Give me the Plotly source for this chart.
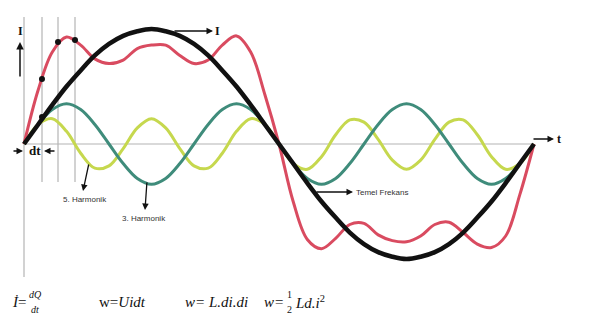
import plotly.graph_objects as go

# ---- data (phase in degrees, amplitude relative to fundamental peak) ----
phase = [0, 10, 20, 30, 40, 50, 60, 70, 80, 90, 100, 110, 120, 130, 140, 150, 160, 170, 180,
         190, 200, 210, 220, 230, 240, 250, 260, 270, 280, 290, 300, 310, 320, 330, 340, 350, 360]
fundamental = [0, .17, .34, .50, .64, .77, .87, .94, .98, 1.00, .98, .94, .87, .77, .64, .50, .34, .17, 0,
               -.17, -.34, -.50, -.64, -.77, -.87, -.94, -.98, -1.00, -.98, -.94, -.87, -.77, -.64, -.50, -.34, -.17, 0]
harm3 = [0, .17, .30, .35, .30, .17, 0, -.17, -.30, -.35, -.30, -.17,
         0, .17, .30, .35, .30, .17, 0, -.17, -.30, -.35, -.30, -.17,
         0, .17, .30, .35, .30, .17, 0, -.17, -.30, -.35, -.30, -.17, 0]
harm5 = [0, .17, .22, .11, -.08, -.21, -.19, -.04, .14, .22, .14, -.04, -.19, -.21, -.08, .11, .22, .17, 0,
         -.17, -.22, -.11, .08, .21, .19, .04, -.14, -.22, -.14, .04, .19, .21, .08, -.11, -.22, -.17, 0]
total = [0, .47, .80, .93, .86, .74, .70, .73, .83, .86, .86, .77, .70, .73, .86, .94, .80, .43, 0,
         -.50, -.83, -.91, -.82, -.70, -.69, -.79, -.84, -.85, -.80, -.70, -.68, -.77, -.87, -.90, -.80, -.44, 0]
dot_phase = [12.7, 24.0, 36.0]
dot_total = [.565, .887, .904]
dot_fund_phase = [12.7]
dot_fund = [.235]

# ---- pixel helpers for decorations ----
SX = 510 / 360.0
X0, Y0, SY = 24, 144, 115.0
def px(x):
    return (x - X0) / SX
def py(y):
    return (Y0 - y) / SY

fig = go.Figure()
fig.add_trace(go.Scatter(x=phase, y=harm5, mode="lines", line=dict(color="#c6d84e", width=3, shape="spline"),
                         hoverinfo="skip"))
fig.add_trace(go.Scatter(x=phase, y=harm3, mode="lines", line=dict(color="#3f8c7b", width=3, shape="spline"),
                         hoverinfo="skip"))
fig.add_trace(go.Scatter(x=phase, y=total, mode="lines", line=dict(color="#d94b60", width=3, shape="spline"),
                         hoverinfo="skip"))
fig.add_trace(go.Scatter(x=phase, y=fundamental, mode="lines", line=dict(color="#111111", width=4.5, shape="spline"),
                         hoverinfo="skip"))
fig.add_trace(go.Scatter(x=dot_phase + dot_fund_phase, y=dot_total + dot_fund, mode="markers",
                         marker=dict(color="#111111", size=6), hoverinfo="skip"))

shapes = []
grey = "#b4b4b4"
shapes.append(dict(type="line", x0=px(24), x1=px(532), y0=py(144), y1=py(144), line=dict(color=grey, width=1.2)))
shapes.append(dict(type="line", x0=px(24), x1=px(24), y0=py(17), y1=py(277), line=dict(color=grey, width=1.2)))
for vx in (42, 58, 75):
    shapes.append(dict(type="line", x0=px(vx), x1=px(vx), y0=py(17), y1=py(182), line=dict(color=grey, width=1.2)))
for s in shapes:
    s["layer"] = "below"

ann = []
def arrow(x1, y1, x2, y2, w=1.3):
    ann.append(dict(x=px(x2), y=py(y2), ax=px(x1), ay=py(y1), xref="x", yref="y", axref="x", ayref="y",
                    text="", showarrow=True, arrowhead=2, arrowsize=1, arrowwidth=w, arrowcolor="#111111",
                    standoff=0, startstandoff=0))
def text(x, y, t, size=12, family="Liberation Serif", xanchor="center", color="#111111"):
    ann.append(dict(x=px(x), y=py(y), xref="x", yref="y", text=t, showarrow=False, xanchor=xanchor,
                    yanchor="middle", font=dict(size=size, family=family, color=color)))

sans = "Liberation Sans"
text(20, 31, "<b>I</b>", 12)
arrow(20, 78, 20, 42, 1.5)
arrow(173, 31, 213, 31)
text(217, 31, "<b>I</b>", 12)
arrow(532, 139, 554, 139)
text(559, 139, "<b>t</b>", 12)
text(35, 150, "<b>dt</b>", 13)
arrow(12, 151, 23, 151)
arrow(56, 151, 44, 151)
arrow(89, 163, 83, 191)
text(85, 199, "5. Harmonik", 8, sans, color="#333333")
arrow(147, 181, 145, 210)
text(144, 218, "3. Harmonik", 8, sans, color="#333333")
arrow(315, 192, 353, 192)
text(354, 192, "Temel Frekans", 8, sans, xanchor="left", color="#333333")

# formulas
text(19, 302, "<i>İ</i>=", 15)
text(35, 294, "<i>dQ</i>", 10)
text(35, 309, "<i>dt</i>", 10)
text(122, 302, "w=<i>Uidt</i>", 15)
text(216, 302, "<i>w= L.di.di</i>", 15)
text(274, 302, "<i>w=</i>", 15)
text(289, 294, "1", 10)
text(289, 309, "2", 10)
text(293, 302, "<i>Ld.i</i><sup>2</sup>", 15, xanchor="left")

fig.update_layout(
    width=600, height=320, autosize=False,
    margin=dict(l=0, r=0, t=0, b=0),
    paper_bgcolor="white", plot_bgcolor="white",
    showlegend=False,
    xaxis=dict(range=[px(0), px(600)], visible=False, showgrid=False, zeroline=False),
    yaxis=dict(range=[py(320), py(0)], visible=False, showgrid=False, zeroline=False),
    shapes=shapes, annotations=ann,
)
fig.write_html("out.html")
